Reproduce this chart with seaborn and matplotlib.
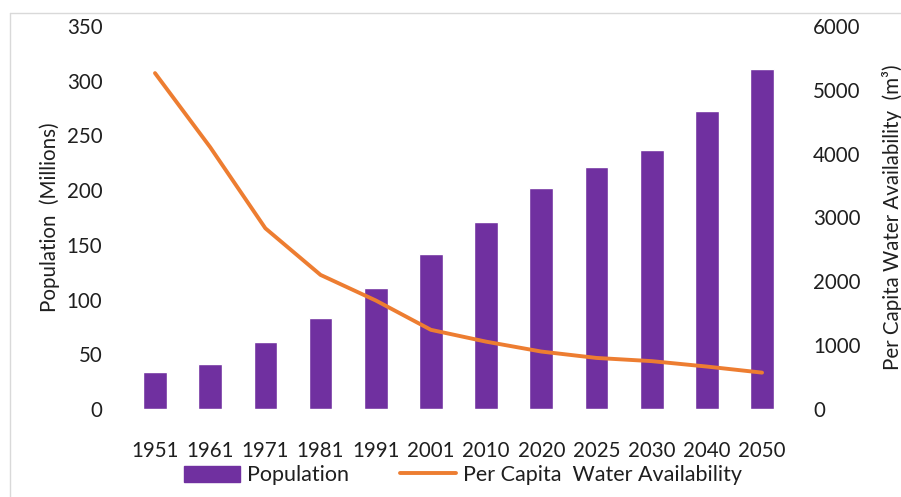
import numpy as np
import pandas as pd
import matplotlib
matplotlib.use("Agg")
import matplotlib.pyplot as plt
from matplotlib.lines import Line2D
import seaborn as sns

years = ["1951", "1961", "1971", "1981", "1991", "2001",
         "2010", "2020", "2025", "2030", "2040", "2050"]
population = [34, 41, 61, 83, 111, 142, 171, 202, 221, 237, 272, 311]
water_per_capita = [5260, 4100, 2830, 2100, 1700, 1240, 1055, 900, 800, 750, 665, 570]

left_ticks = [0, 50, 100, 150, 200, 250, 300, 350]
right_ticks = [0, 1000, 2000, 3000, 4000, 5000, 6000]

bar_color = "#7030A0"
line_color = "#ED7D31"
text_color = "#1f1f1f"
fs = 14.8

sns.set_theme(style="white")
plt.rcParams["font.family"] = ["Lato", "DejaVu Sans"]

df = pd.DataFrame({"year": years, "population": population,
                   "water": water_per_capita, "pos": np.arange(len(years))})

fig = plt.figure(figsize=(9.01, 4.97), dpi=100)
ax = fig.add_axes([0.1414, 0.177, 0.735, 0.771])

sns.barplot(data=df, x="year", y="population", color=bar_color,
            saturation=1, width=0.43, ax=ax)
ax.set_xlim(-0.5, len(years) - 0.5)
ax.set_ylim(0, 350)
ax.set_yticks(left_ticks)
ax.set_xlabel("")
ax.set_ylabel("Population  (Millions)", fontsize=fs, color=text_color, labelpad=5)
ax.tick_params(axis="x", length=0, pad=23, labelsize=fs, colors=text_color)
ax.tick_params(axis="y", length=0, pad=18, labelsize=fs, colors=text_color)
for s in ax.spines.values():
    s.set_visible(False)

ax2 = ax.twinx()
sns.lineplot(data=df, x="pos", y="water", color=line_color, linewidth=2.8,
             ax=ax2, legend=False)
ax2.set_ylim(0, 6000)
ax2.set_yticks(right_ticks)
ax2.set_ylabel("Per Capita Water Availability  (m³)", fontsize=fs,
               color=text_color, labelpad=15)
ax2.tick_params(axis="y", length=0, pad=17, labelsize=fs, colors=text_color)
ax2.set_xlabel("")
ax2.grid(False)
ax.grid(False)
for s in ax2.spines.values():
    s.set_visible(False)

handles = [plt.Rectangle((0, 0), 1, 1, color=bar_color),
           Line2D([0], [0], color=line_color, linewidth=2.8)]
leg = fig.legend(handles, ["Population", "Per Capita  Water Availability"],
                 loc="center", bbox_to_anchor=(0.514, 0.044), ncol=2,
                 frameon=False, fontsize=15.5, handlelength=2.6, handleheight=0.75,
                 columnspacing=2.4, handletextpad=0.3)
for t in leg.get_texts():
    t.set_color(text_color)

# light frame around the chart area
fig.add_artist(Line2D([10 / 901, 10 / 901], [0, 1 - 13 / 497],
                      transform=fig.transFigure, color="#d9d9d9", linewidth=1))
fig.add_artist(Line2D([10 / 901, 1], [1 - 13 / 497, 1 - 13 / 497],
                      transform=fig.transFigure, color="#d9d9d9", linewidth=1))

fig.savefig("out.png", dpi=100, facecolor="white")
